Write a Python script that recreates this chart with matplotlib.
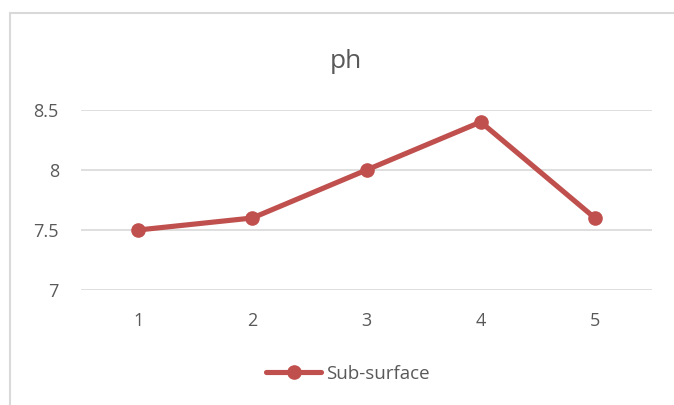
import matplotlib.pyplot as plt
from matplotlib.patches import Rectangle

categories = ['1', '2', '3', '4', '5']
ph_values = [7.5, 7.6, 8.0, 8.4, 7.6]
series_name = 'Sub-surface'
y_ticks = [7, 7.5, 8, 8.5]
y_tick_labels = ['7', '7.5', '8', '8.5']

W, H = 674, 405
RED = '#C0504D'
GRID = '#D9D9D9'
TXT = '#595959'

plt.rcParams['font.family'] = ['Open Sans', 'DejaVu Sans']

fig = plt.figure(figsize=(W / 100, H / 100), dpi=100)
ax = fig.add_axes([81 / W, 115 / H, 571 / W, 180 / H])

# chart border (cropped at right and bottom)
fig.patches.append(Rectangle((9.5 / W, -0.1), 1.0, (H - 13) / H + 0.1,
                             transform=fig.transFigure, fill=False,
                             edgecolor=GRID, linewidth=1.5, zorder=0))

x = list(range(len(categories)))
ax.plot(x, ph_values, color=RED, linewidth=3.7, marker='o',
        markersize=9.5, markerfacecolor=RED, markeredgecolor=RED,
        label=series_name, solid_capstyle='round', zorder=3)

ax.set_xlim(-0.5, len(categories) - 0.5)
ax.set_ylim(7, 8.5)
ax.set_xticks(x)
ax.set_xticklabels(categories)
ax.set_yticks(y_ticks)
ax.set_yticklabels(y_tick_labels)

for y in y_ticks:
    ax.axhline(y, color=GRID, linewidth=1.2, zorder=1)

for s in ax.spines.values():
    s.set_visible(False)
ax.tick_params(axis='both', length=0, colors=TXT, labelsize=13)
ax.tick_params(axis='y', pad=16)
ax.tick_params(axis='x', pad=16)

fig.text(346 / W, 1 - 61 / H, 'ph', ha='center', va='center',
         fontsize=19, color=TXT)

leg = fig.legend(loc='center', bbox_to_anchor=(348 / W, 1 - 374 / H),
                 frameon=False, fontsize=13.5, handlelength=2.9,
                 handletextpad=0.27, labelcolor=TXT)

fig.savefig('out.png', dpi=100)
